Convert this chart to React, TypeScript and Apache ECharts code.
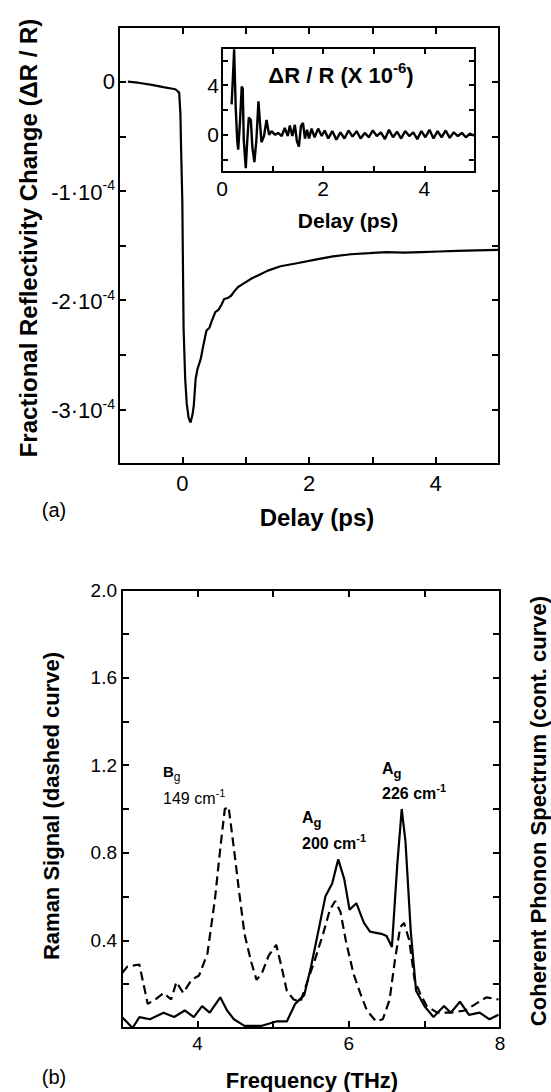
import React, { useEffect, useRef } from "react";
import * as echarts from "echarts";

// ---------- Panel (a): main transient reflectivity ----------
const mainDelay = [
  -0.86, -0.7, -0.48, -0.3, -0.11, -0.05, -0.03, -0.02, 0.0, 0.01, 0.02, 0.045, 0.07, 0.1, 0.13,
  0.16, 0.18, 0.21, 0.24, 0.29, 0.33, 0.38, 0.43, 0.46, 0.52, 0.57, 0.62, 0.66, 0.72, 0.77, 0.82,
  0.88, 0.99, 1.1, 1.21, 1.35, 1.55, 1.83, 2.1, 2.38, 2.66, 2.95, 3.22, 3.5, 3.77, 4.05, 4.33,
  4.65, 5.0,
];
const mainDR = [
  0, -0.01e-4, -0.03e-4, -0.05e-4, -0.07e-4, -0.1e-4, -0.3e-4, -0.6e-4, -1.1e-4, -1.7e-4,
  -2.26e-4, -2.72e-4, -2.95e-4, -3.08e-4, -3.12e-4, -3.05e-4, -2.97e-4, -2.72e-4, -2.63e-4,
  -2.54e-4, -2.42e-4, -2.28e-4, -2.25e-4, -2.2e-4, -2.11e-4, -2.09e-4, -2.04e-4, -1.99e-4,
  -1.98e-4, -1.96e-4, -1.92e-4, -1.88e-4, -1.84e-4, -1.8e-4, -1.77e-4, -1.73e-4, -1.69e-4,
  -1.66e-4, -1.63e-4, -1.6e-4, -1.58e-4, -1.57e-4, -1.56e-4, -1.565e-4, -1.56e-4, -1.555e-4,
  -1.55e-4, -1.545e-4, -1.54e-4,
];
const mainXTicks = [0, 1, 2, 3, 4];
const mainXLabels = [0, 2, 4];
const mainYTicks = [0, -0.5e-4, -1e-4, -1.5e-4, -2e-4, -2.5e-4, -3e-4];
const mainYLabels = [0, -1e-4, -2e-4, -3e-4];

// ---------- Inset: oscillatory part (x 10^-6) ----------
const insetDelay = [
  0.19, 0.22, 0.24, 0.27, 0.3, 0.32, 0.355, 0.39, 0.41, 0.43, 0.47, 0.5, 0.53, 0.57, 0.6, 0.64,
  0.68, 0.72, 0.75, 0.78, 0.83, 0.88, 0.93, 0.98, 1.05, 1.11, 1.18, 1.24, 1.3, 1.34, 1.39, 1.44,
  1.48, 1.52, 1.56, 1.6, 1.64, 1.68, 1.72, 1.77, 1.83, 1.9, 1.97, 2.03, 2.1, 2.18, 2.26, 2.34,
  2.42, 2.5, 2.58, 2.66, 2.74, 2.82, 2.9, 2.98, 3.06, 3.14, 3.22, 3.3, 3.38, 3.46, 3.54, 3.62,
  3.7, 3.78, 3.86, 3.94, 4.02, 4.1, 4.18, 4.26, 4.34, 4.42, 4.5, 4.58, 4.66, 4.74, 4.82, 4.9, 5.0,
];
const insetDR = [
  2.45, 5.0, 6.9, 2.3, -0.4, -1.2, 1.0, 3.9, 3.7, -0.4, -2.7, -0.4, 1.4, 1.2, -1.0, -2.2, -0.4,
  2.7, 1.0, -0.6, -0.1, 1.2, 0.0, 0.3, 0.0, 0.15, -0.1, 0.55, -0.1, 0.75, -0.1, 0.8, -0.5,
  -0.95, 0.7, 0.95, -0.3, 0.4, -0.3, 0.5, -0.2, 0.5, -0.1, 0.35, -0.3, 0.3, -0.4, 0.2, -0.3,
  0.35, -0.15, 0.3, -0.3, 0.15, -0.2, 0.35, -0.1, 0.2, -0.35, 0.4, -0.2, 0.25, -0.3, 0.3, -0.1,
  0.2, -0.35, 0.3, -0.2, 0.4, -0.3, 0.3, -0.2, 0.35, -0.25, 0.2, -0.1, 0.15, -0.2, 0.1, -0.1,
];
const insetXTicks = [1, 2, 3, 4];
const insetXLabels = [0, 2, 4];
const insetYTicks = [-2, 0, 2, 4, 6];
const insetYLabels = [0, 4];

// ---------- Panel (b): Raman (dashed) and coherent phonon spectrum (solid) ----------
const ramanFreq = [
  3.0, 3.07, 3.23, 3.34, 3.44, 3.55, 3.65, 3.72, 3.81, 3.92, 4.02, 4.13, 4.23, 4.3, 4.36, 4.41,
  4.48, 4.55, 4.62, 4.71, 4.78, 4.85, 4.94, 5.04, 5.11, 5.18, 5.27, 5.36, 5.45, 5.55, 5.66, 5.75,
  5.82, 5.89, 5.96, 6.06, 6.15, 6.24, 6.36, 6.45, 6.54, 6.61, 6.68, 6.73, 6.8, 6.87, 6.94, 7.03,
  7.17, 7.35, 7.54, 7.68, 7.82, 7.98,
];
const ramanSignal = [
  0.25, 0.28, 0.29, 0.11, 0.13, 0.16, 0.13, 0.21, 0.16, 0.22, 0.24, 0.34, 0.59, 0.82, 1.0, 1.01,
  0.82, 0.62, 0.43, 0.3, 0.22, 0.25, 0.33, 0.38, 0.28, 0.17, 0.13, 0.12, 0.21, 0.31, 0.43, 0.54,
  0.58, 0.53, 0.4, 0.25, 0.16, 0.08, 0.03, 0.04, 0.13, 0.31, 0.46, 0.48, 0.4, 0.22, 0.16, 0.1,
  0.07, 0.07, 0.08, 0.11, 0.14, 0.13,
];
const phononFreq = [
  3.0, 3.14, 3.23, 3.37, 3.55, 3.69, 3.83, 3.95, 4.06, 4.16, 4.3, 4.39, 4.48, 4.62, 4.85, 5.04,
  5.18, 5.29, 5.41, 5.5, 5.59, 5.69, 5.78, 5.86, 5.94, 6.01, 6.1, 6.2, 6.28, 6.43, 6.5, 6.57,
  6.64, 6.7, 6.75, 6.82, 6.89, 7.0, 7.12, 7.26, 7.35, 7.47, 7.59, 7.73, 7.86, 7.98,
];
const phononSpectrum = [
  0.05, 0.0, 0.05, 0.04, 0.07, 0.05, 0.08, 0.05, 0.1, 0.07, 0.14, 0.08, 0.04, 0.01, 0.01, 0.03,
  0.03, 0.11, 0.15, 0.28, 0.43, 0.6, 0.66, 0.77, 0.68, 0.54, 0.57, 0.48, 0.44, 0.43, 0.42, 0.37,
  0.74, 1.0, 0.85, 0.44, 0.17, 0.1, 0.05, 0.1, 0.07, 0.12, 0.06, 0.07, 0.04, 0.06,
];
const freqTicks = [4, 5, 6, 7];
const freqLabels = [4, 6, 8];
const ramanYTicks = [0.2, 0.4, 0.6, 0.8, 1.0, 1.2, 1.4, 1.6, 1.8];
const ramanYLabels = [0.4, 0.8, 1.2, 1.6, 2.0];

const FONT = '"Liberation Sans", Arial, Helvetica, sans-serif';

const zip = (xs: number[], ys: number[]) => xs.map((x, i) => [x, ys[i]]);

export default function App() {
  const ref = useRef<HTMLDivElement>(null);

  useEffect(() => {
    document.body.style.margin = "0";
    if (!ref.current) return;
    const chart = echarts.init(ref.current, null, { renderer: "svg" });

    const axisLine = { show: true, onZero: false, lineStyle: { color: "#000", width: 2 } };
    const tick = (vals: number[], len = 7) => ({
      show: true,
      inside: true,
      length: len,
      customValues: vals,
      lineStyle: { color: "#000", width: 2 },
    });
    const noLabel = { show: false };

    const xAxis: any[] = [
      {
        gridIndex: 0, type: "value", position: "bottom", min: -1, max: 5,
        axisLine, axisTick: tick(mainXTicks), splitLine: { show: false },
        axisLabel: { customValues: mainXLabels, color: "#000", fontSize: 22, fontFamily: FONT, margin: 8 },
      },
      {
        gridIndex: 0, type: "value", position: "top", min: -1, max: 5,
        axisLine, axisTick: tick(mainXTicks), splitLine: { show: false }, axisLabel: noLabel,
      },
      {
        gridIndex: 1, type: "value", position: "bottom", min: 0, max: 5,
        axisLine, axisTick: tick(insetXTicks, 6), splitLine: { show: false },
        axisLabel: { customValues: insetXLabels, color: "#000", fontSize: 21, fontFamily: FONT, margin: 6 },
      },
      {
        gridIndex: 1, type: "value", position: "top", min: 0, max: 5,
        axisLine, axisTick: tick(insetXTicks, 6), splitLine: { show: false }, axisLabel: noLabel,
      },
      {
        gridIndex: 2, type: "value", position: "bottom", min: 3, max: 8,
        axisLine, axisTick: tick(freqTicks), splitLine: { show: false },
        axisLabel: { customValues: freqLabels, color: "#000", fontSize: 19, fontFamily: FONT, margin: 6 },
      },
      {
        gridIndex: 2, type: "value", position: "top", min: 3, max: 8,
        axisLine, axisTick: tick(freqTicks), splitLine: { show: false }, axisLabel: noLabel,
      },
    ];

    const yAxis: any[] = [
      {
        gridIndex: 0, type: "value", position: "left", min: -3.5e-4, max: 0.5e-4,
        axisLine, axisTick: tick(mainYTicks), splitLine: { show: false },
        axisLabel: {
          customValues: mainYLabels,
          margin: 4,
          formatter: (v: number) => {
            const n = Math.round(v * 1e4);
            return n === 0 ? "{n|0}" : `{n|${n}·10}{s|-4}`;
          },
          rich: {
            n: { fontSize: 22, fontFamily: FONT, color: "#000", verticalAlign: "bottom" },
            s: { fontSize: 14, fontFamily: FONT, color: "#000", verticalAlign: "bottom", padding: [0, 0, 11, 0] },
          },
        },
      },
      {
        gridIndex: 0, type: "value", position: "right", min: -3.5e-4, max: 0.5e-4,
        axisLine, axisTick: tick(mainYTicks), splitLine: { show: false }, axisLabel: noLabel,
      },
      {
        gridIndex: 1, type: "value", position: "left", min: -3, max: 7,
        axisLine, axisTick: tick(insetYTicks, 6), splitLine: { show: false },
        axisLabel: { customValues: insetYLabels, color: "#000", fontSize: 21, fontFamily: FONT, margin: 3 },
      },
      {
        gridIndex: 1, type: "value", position: "right", min: -3, max: 7,
        axisLine, axisTick: tick(insetYTicks, 6), splitLine: { show: false }, axisLabel: noLabel,
      },
      {
        gridIndex: 2, type: "value", position: "left", min: 0, max: 2,
        axisLine, axisTick: tick(ramanYTicks), splitLine: { show: false },
        axisLabel: {
          customValues: ramanYLabels, color: "#000", fontSize: 19, fontFamily: FONT, margin: 5,
          formatter: (v: number) => v.toFixed(1),
        },
      },
      {
        gridIndex: 2, type: "value", position: "right", min: 0, max: 2,
        axisLine, axisTick: tick(ramanYTicks), splitLine: { show: false }, axisLabel: noLabel,
      },
    ];

    const lineBase = {
      type: "line",
      showSymbol: false,
      symbol: "none",
      smooth: false,
      silent: true,
    };

    const bold = (size: number) => ({ fontSize: size, fontWeight: "bold", fontFamily: FONT, fill: "#000" });

    const graphic: any[] = [
      {
        type: "text", x: 28, y: 238, rotation: Math.PI / 2,
        style: { text: "Fractional Reflectivity Change (ΔR / R)", ...bold(24), align: "center", verticalAlign: "middle" },
      },
      {
        type: "text", x: 317, y: 517,
        style: { text: "Delay (ps)", ...bold(24), align: "center", verticalAlign: "middle" },
      },
      {
        type: "text", x: 54, y: 510,
        style: { text: "(a)", fontSize: 20, fontFamily: FONT, fill: "#000", align: "center", verticalAlign: "middle" },
      },
      {
        type: "text", x: 341, y: 73,
        style: {
          text: "{b|ΔR / R (X 10}{s|-6}{b|)}",
          align: "center", verticalAlign: "middle", fill: "#000",
          rich: {
            b: { fontSize: 22, fontWeight: "bold", fontFamily: FONT, fill: "#000", verticalAlign: "bottom" },
            s: { fontSize: 15, fontWeight: "bold", fontFamily: FONT, fill: "#000", verticalAlign: "bottom", padding: [0, 0, 11, 0] },
          },
        },
      },
      {
        type: "text", x: 348, y: 220,
        style: { text: "Delay (ps)", ...bold(21), align: "center", verticalAlign: "middle" },
      },
      {
        type: "text", x: 51, y: 806, rotation: Math.PI / 2,
        style: { text: "Raman Signal (dashed curve)", ...bold(22), align: "center", verticalAlign: "middle" },
      },
      {
        type: "text", x: 538, y: 811, rotation: Math.PI / 2,
        style: { text: "Coherent Phonon Spectrum (cont. curve)", ...bold(22), align: "center", verticalAlign: "middle" },
      },
      {
        type: "text", x: 312, y: 1080,
        style: { text: "Frequency (THz)", ...bold(22), align: "center", verticalAlign: "middle" },
      },
      {
        type: "text", x: 54, y: 1077,
        style: { text: "(b)", fontSize: 20, fontFamily: FONT, fill: "#000", align: "center", verticalAlign: "middle" },
      },
      {
        type: "text", x: 163, y: 773,
        style: {
          text: "{b|B}{g|g}", align: "left", verticalAlign: "middle",
          rich: {
            b: { fontSize: 15, fontWeight: "bold", fontFamily: FONT, fill: "#000", verticalAlign: "bottom", padding: [0, 0, 4, 0] },
            g: { fontSize: 12, fontFamily: FONT, fill: "#000", verticalAlign: "bottom" },
          },
        },
      },
      {
        type: "text", x: 163, y: 797,
        style: {
          text: "{t|149 cm}{s|-1}", align: "left", verticalAlign: "middle",
          rich: {
            t: { fontSize: 16, fontFamily: FONT, fill: "#000", verticalAlign: "bottom" },
            s: { fontSize: 11, fontFamily: FONT, fill: "#000", verticalAlign: "bottom", padding: [0, 0, 8, 0] },
          },
        },
      },
      {
        type: "text", x: 382, y: 770,
        style: {
          text: "{b|A}{g|g}", align: "left", verticalAlign: "middle",
          rich: {
            b: { fontSize: 16, fontWeight: "bold", fontFamily: FONT, fill: "#000", verticalAlign: "bottom", padding: [0, 0, 4, 0] },
            g: { fontSize: 13, fontWeight: "bold", fontFamily: FONT, fill: "#000", verticalAlign: "bottom" },
          },
        },
      },
      {
        type: "text", x: 382, y: 792,
        style: {
          text: "{t|226 cm}{s|-1}", align: "left", verticalAlign: "middle",
          rich: {
            t: { fontSize: 16, fontWeight: "bold", fontFamily: FONT, fill: "#000", verticalAlign: "bottom" },
            s: { fontSize: 11, fontWeight: "bold", fontFamily: FONT, fill: "#000", verticalAlign: "bottom", padding: [0, 0, 8, 0] },
          },
        },
      },
      {
        type: "text", x: 302, y: 819,
        style: {
          text: "{b|A}{g|g}", align: "left", verticalAlign: "middle",
          rich: {
            b: { fontSize: 16, fontWeight: "bold", fontFamily: FONT, fill: "#000", verticalAlign: "bottom", padding: [0, 0, 4, 0] },
            g: { fontSize: 13, fontWeight: "bold", fontFamily: FONT, fill: "#000", verticalAlign: "bottom" },
          },
        },
      },
      {
        type: "text", x: 302, y: 842,
        style: {
          text: "{t|200 cm}{s|-1}", align: "left", verticalAlign: "middle",
          rich: {
            t: { fontSize: 16, fontWeight: "bold", fontFamily: FONT, fill: "#000", verticalAlign: "bottom" },
            s: { fontSize: 11, fontWeight: "bold", fontFamily: FONT, fill: "#000", verticalAlign: "bottom", padding: [0, 0, 8, 0] },
          },
        },
      },
    ];

    chart.setOption({
      animation: false,
      backgroundColor: "#fff",
      textStyle: { fontFamily: FONT, color: "#000" },
      grid: [
        { left: 119, top: 27, width: 380, height: 437, containLabel: false },
        { left: 222, top: 48, width: 253, height: 124, containLabel: false },
        { left: 122, top: 590, width: 378, height: 438, containLabel: false },
      ],
      xAxis,
      yAxis,
      series: [
        {
          ...lineBase, name: "ΔR/R", xAxisIndex: 0, yAxisIndex: 0,
          data: zip(mainDelay, mainDR),
          lineStyle: { color: "#000", width: 2.2 },
        },
        {
          ...lineBase, name: "ΔR/R inset (x10^-6)", xAxisIndex: 2, yAxisIndex: 2,
          data: zip(insetDelay, insetDR),
          lineStyle: { color: "#000", width: 2.4 },
        },
        {
          ...lineBase, name: "Raman Signal", xAxisIndex: 4, yAxisIndex: 4,
          data: zip(ramanFreq, ramanSignal),
          lineStyle: { color: "#000", width: 2.2, type: [9, 5] },
        },
        {
          ...lineBase, name: "Coherent Phonon Spectrum", xAxisIndex: 4, yAxisIndex: 4,
          data: zip(phononFreq, phononSpectrum),
          lineStyle: { color: "#000", width: 2.2 },
        },
      ],
      graphic,
    });

    return () => chart.dispose();
  }, []);

  return <div ref={ref} style={{ width: 551, height: 1092 }} />;
}
